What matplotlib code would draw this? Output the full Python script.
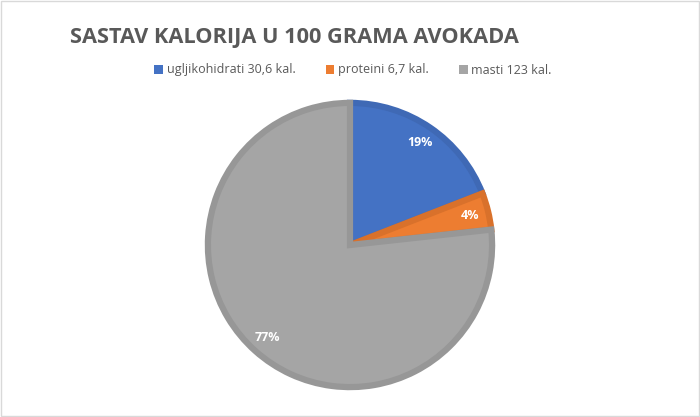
import matplotlib
matplotlib.use("Agg")
import matplotlib.pyplot as plt
from matplotlib.patches import Rectangle

categories = ["ugljikohidrati 30,6 kal.", "proteini 6,7 kal.", "masti 123 kal."]
values = [30.6, 6.7, 123]
colors = ["#4472C4", "#ED7D31", "#A5A5A5"]
edge_colors = ["#3F69B5", "#D9712B", "#979797"]
title = "SASTAV KALORIJA U 100 GRAMA AVOKADA"

fig = plt.figure(figsize=(7.0, 4.17), dpi=100)
fig.patches.append(Rectangle((0.002, 0.003), 0.996, 0.994, transform=fig.transFigure,
                             fill=False, edgecolor="#D9D9D9", linewidth=1))

cx, cy, r = 350, 417 - 245, 145
ax = fig.add_axes([(cx - r) / 700, (cy - r) / 417, 2 * r / 700, 2 * r / 417])
wedges, texts, autotexts = ax.pie(
    values, colors=colors, startangle=90, counterclock=False, radius=0.98,
    autopct=lambda p: f"{p:.0f}%", pctdistance=0.87,
    wedgeprops=dict(linewidth=4.5, joinstyle="miter"),
    textprops=dict(color="white", fontsize=9, fontweight="bold", family="Open Sans"))
for w, ec in zip(wedges, edge_colors):
    w.set_edgecolor(ec)
ax.set_xlim(-1, 1)
ax.set_ylim(-1, 1)
ax.set_aspect("equal")
ax.axis("off")

fig.text(70 / 700, 1 - 38 / 417, title, fontsize=15.7, fontweight="bold", color="#595959",
         family="Open Sans", ha="left", va="center")

handles = [Rectangle((0, 0), 1, 1, facecolor=c) for c in colors]
leg = fig.legend(handles, categories, loc="center", bbox_to_anchor=(353 / 700, 1 - 70 / 417),
                 ncol=3, frameon=False, handlelength=0.7, handleheight=0.7,
                 handletextpad=0.3, columnspacing=2.4, prop=dict(family="Open Sans", size=9))
for t in leg.get_texts():
    t.set_color("#595959")

fig.savefig("out.png", dpi=100)
